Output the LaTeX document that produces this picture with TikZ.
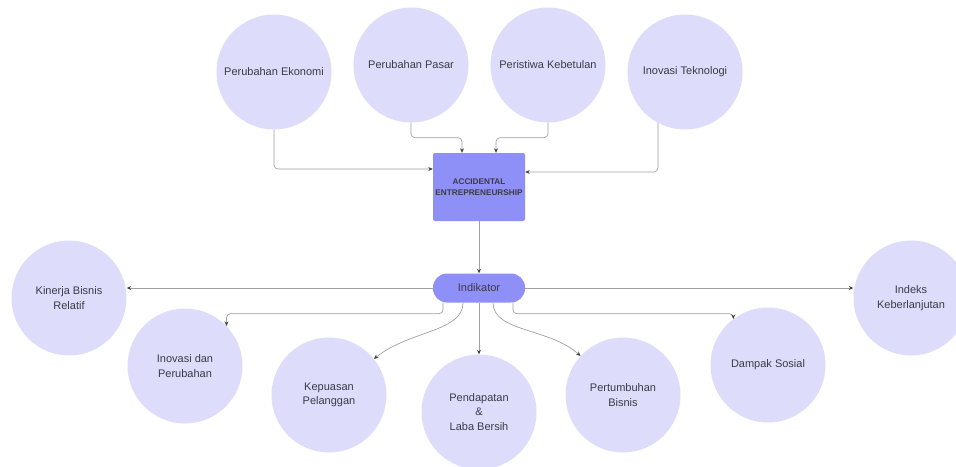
\documentclass[tikz,border=0pt]{standalone}
\usepackage{fontspec}
\setmainfont{Liberation Sans}
\usetikzlibrary{arrows.meta}
\definecolor{bubblefill}{HTML}{DDDDFB}
\definecolor{corefill}{HTML}{8F8FF8}
\definecolor{linegray}{HTML}{A0A0A0}
\definecolor{headgray}{HTML}{404040}
\definecolor{textgray}{HTML}{3A3A48}
\tikzstyle{bubble} = [circle, minimum size=115pt, inner sep=0pt, align=center,
fill=bubblefill, text=textgray, font=\fontsize{11}{14.5}\selectfont]
\tikzstyle{core} = [rectangle, rounded corners=2pt, minimum width=92pt, minimum height=68pt,
inner sep=1pt, align=center, fill=corefill, text=textgray, font=\fontsize{8.2}{11}\selectfont\bfseries]
\tikzstyle{pill} = [rectangle, rounded corners=14pt, minimum width=92pt, minimum height=29pt,
fill=corefill, text=textgray, font=\fontsize{11}{13}\selectfont]
\tikzstyle{arrow} = [draw=linegray, line width=0.7pt, rounded corners=4pt,
-{Stealth[length=4.5pt, width=4pt, color=headgray]}]

\begin{document}
\begin{tikzpicture} [x=1pt, y=-1pt]
  \useasboundingbox (0,0) rectangle (956,466);

  \node (ekonomi) [bubble] at (274,72) {Perubahan Ekonomi};
  \node (pasar) [bubble] at (411,65) {Perubahan Pasar};
  \node (kebetulan) [bubble] at (548,65) {Peristiwa Kebetulan};
  \node (teknologi) [bubble] at (685,72) {Inovasi Teknologi};
  \node (ae) [core] at (479,187) {ACCIDENTAL\\ENTREPRENEURSHIP};
  \node (indikator) [pill] at (479,288) {Indikator};
  \node (kinerja) [bubble] at (69,298) {Kinerja Bisnis\\Relatif};
  \node (inovasi) [bubble] at (185,366) {Inovasi dan\\Perubahan};
  \node (kepuasan) [bubble] at (329,395) {Kepuasan\\Pelanggan};
  \node (pendapatan) [bubble] at (479,412) {Pendapatan\\\&\\Laba Bersih};
  \node (pertumbuhan) [bubble] at (623,395) {Pertumbuhan\\Bisnis};
  \node (dampak) [bubble] at (768,365) {Dampak Sosial};
  \node (indeks) [bubble] at (911,298) {Indeks\\Keberlanjutan};

  \draw[arrow] (ekonomi.south) |- ([yshift=18pt]ae.west);
  \draw[arrow] (pasar.south) -- ++(0,15) -| ([xshift=-17pt]ae.north);
  \draw[arrow] (kebetulan.south) -- ++(0,15) -| ([xshift=17pt]ae.north);
  \draw[arrow] (teknologi.-118) |- ([yshift=15pt]ae.east);
  \draw[arrow] (ae.south) -- (indikator.north);

  \draw[arrow] (indikator.west) -- (indikator.west -| kinerja.east);
  \draw[arrow] (indikator.east) -- (indikator.east -| indeks.west);
  \draw[arrow] ([xshift=-36pt]indikator.south) -- ++(0,11) -| (inovasi.44);
  \draw[arrow] ([xshift=34pt]indikator.south) -- ++(0,11) -| (dampak.127);
  \draw[arrow] (indikator.south) -- (pendapatan.north);
  \draw[arrow] ([xshift=-16pt]indikator.south) .. controls (463,332) and (410,330) .. (kepuasan);
  \draw[arrow] ([xshift=14pt]indikator.south) .. controls (493,332) and (550,328) .. (pertumbuhan);
\end{tikzpicture}
\end{document}
